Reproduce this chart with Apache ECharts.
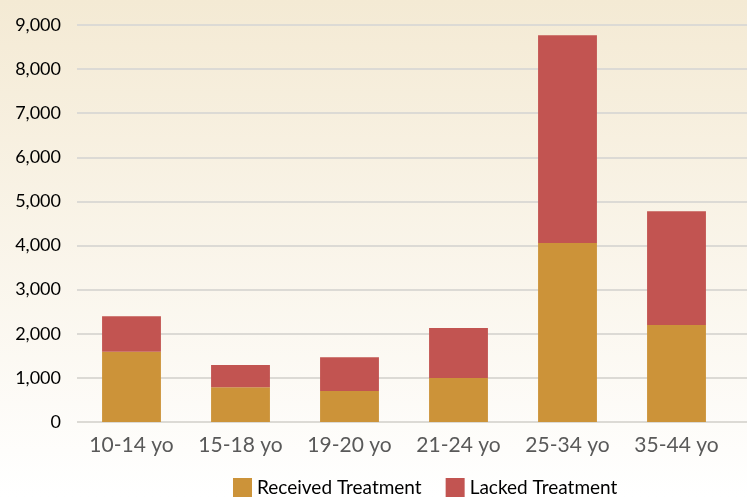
<!DOCTYPE html>
<html>
<head>
<meta charset="utf-8">
<script src="https://cdn.jsdelivr.net/npm/echarts@6/dist/echarts.min.js"></script>
<style>
  html, body { margin: 0; padding: 0; }
  #chart { width: 747px; height: 497px; }
</style>
</head>
<body>
<div id="chart"></div>
<script>
var categories = ['10-14 yo', '15-18 yo', '19-20 yo', '21-24 yo', '25-34 yo', '35-44 yo'];
var received = [1590, 790, 700, 1000, 4060, 2200];
var lacked = [810, 500, 770, 1130, 4710, 2580];
var seriesNames = ['Received Treatment', 'Lacked Treatment'];

var chart = echarts.init(document.querySelector('#chart'));
// grid 0 only carries the value axis + gridlines (full width),
// grid 1 holds the bars, a bit narrower on the right like the original
var option = {
    backgroundColor: {
        type: 'linear', x: 0, y: 0, x2: 0, y2: 1,
        colorStops: [
            {offset: 0, color: '#f4ead4'},
            {offset: 1, color: '#ffffff'}
        ]
    },
    color: ['#cc9339', '#c25451'],
    textStyle: { fontFamily: 'Lato' },
    grid: [
        { left: 77, right: 0, top: 25, bottom: 75 },
        { left: 77, right: 16, top: 25, bottom: 75 }
    ],
    legend: {
        bottom: -6,
        left: 228,
        itemWidth: 19,
        itemHeight: 20,
        itemGap: 24,
        icon: 'rect',
        textStyle: { fontSize: 19, color: '#000' },
        data: seriesNames
    },
    xAxis: [
        { type: 'category', gridIndex: 0, show: false, data: categories },
        {
            type: 'category',
            gridIndex: 1,
            data: categories,
            axisLine: { show: false },
            axisTick: { show: false },
            axisLabel: { fontSize: 21, color: '#595959', margin: 13, interval: 0 }
        }
    ],
    yAxis: [
        {
            type: 'value',
            gridIndex: 0,
            min: 0,
            max: 9000,
            interval: 1000,
            axisLabel: {
                fontSize: 18,
                color: '#000',
                margin: 16,
                formatter: function (v) { return v.toLocaleString('en-US'); }
            },
            splitLine: { lineStyle: { color: '#dcdad5', width: 2 } }
        },
        {
            type: 'value',
            gridIndex: 1,
            min: 0,
            max: 9000,
            interval: 1000,
            show: false,
            splitLine: { show: false }
        }
    ],
    series: [
        {
            name: seriesNames[0],
            type: 'bar',
            stack: 'total',
            xAxisIndex: 1,
            yAxisIndex: 1,
            barWidth: '54%',
            data: received
        },
        {
            name: seriesNames[1],
            type: 'bar',
            stack: 'total',
            xAxisIndex: 1,
            yAxisIndex: 1,
            barWidth: '54%',
            data: lacked
        }
    ]
};
chart.setOption(option);
</script>
</body>
</html>
